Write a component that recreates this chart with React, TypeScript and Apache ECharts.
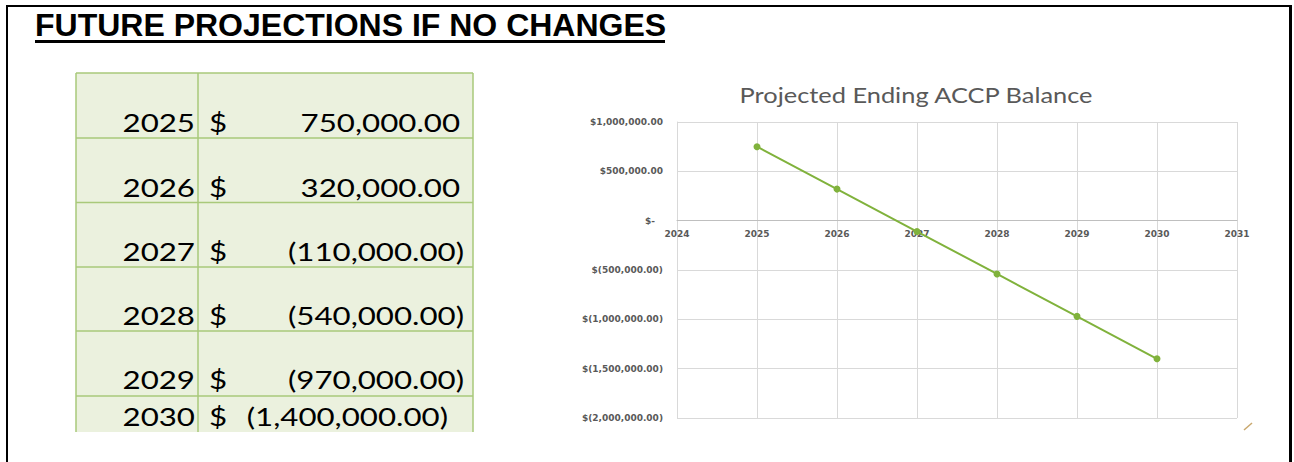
import React, { useEffect, useRef } from "react";
import * as echarts from "echarts";

const years: number[] = [2025, 2026, 2027, 2028, 2029, 2030];
const balances: number[] = [750000, 320000, -110000, -540000, -970000, -1400000];
const xMin = 2024;
const xMax = 2031;
const yMin = -2000000;
const yMax = 1000000;
const yStep = 500000;
const pageTitle = "FUTURE PROJECTIONS IF NO CHANGES";
const chartTitle = "Projected Ending ACCP Balance";

const W = 1294;
const H = 462;

function money(v: number): string {
  return Math.abs(v).toLocaleString("en-US", { minimumFractionDigits: 2, maximumFractionDigits: 2 });
}
function tableValue(v: number): string {
  return v < 0 ? "(" + money(v) + ")" : money(v);
}
function axisValue(v: number): string {
  if (v === 0) return "{z|$-}";
  return v < 0 ? "$(" + money(v) + ")" : "$" + money(v);
}

const rowEdges = [73, 138, 202.5, 267, 331, 396, 432];
const rowBaselines = [131, 196, 260, 324, 388, 425];
const tblLeft = 76;
const tblMid = 198;
const tblRight = 473;

export default function App() {
  const ref = useRef<HTMLDivElement>(null);
  useEffect(() => {
    if (!ref.current) return;
    const chart = echarts.init(ref.current, null, { renderer: "svg" });
    const tableFont = "Lato";
    const tfs = 25;
    const tsx = 1.25;
    const graphics: any[] = [];
    // outer frame
    graphics.push({ type: "rect", shape: { x: 6, y: 5, width: 2, height: H }, style: { fill: "#000" } });
    graphics.push({ type: "rect", shape: { x: 6, y: 5, width: 1285, height: 2 }, style: { fill: "#000" } });
    graphics.push({ type: "rect", shape: { x: 1289, y: 5, width: 3, height: H }, style: { fill: "#000" } });
    // page title
    graphics.push({
      type: "text", x: 35, y: 25,
      style: { text: pageTitle, font: "bold 32px 'Liberation Sans', Arial, sans-serif", fill: "#000", verticalAlign: "middle", align: "left" },
    });
    graphics.push({ type: "rect", shape: { x: 35, y: 40, width: 630, height: 3 }, style: { fill: "#000" } });
    // table background
    graphics.push({
      type: "rect", shape: { x: tblLeft, y: rowEdges[0], width: tblRight - tblLeft, height: rowEdges[6] - rowEdges[0] },
      style: { fill: "#EBF1DE" },
    });
    const green = "#A9C97A";
    for (let i = 0; i < 6; i++) {
      graphics.push({ type: "line", shape: { x1: tblLeft, y1: rowEdges[i], x2: tblRight, y2: rowEdges[i] }, style: { stroke: green, lineWidth: 1.5 } });
    }
    [tblLeft, tblMid, tblRight].forEach((x) => {
      graphics.push({ type: "line", shape: { x1: x, y1: rowEdges[0], x2: x, y2: rowEdges[6] }, style: { stroke: green, lineWidth: 1.5 } });
    });
    for (let i = 0; i < years.length; i++) {
      const cy = rowBaselines[i] - 9;
      graphics.push({
        type: "text", x: 195, y: cy, scaleX: tsx,
        style: { text: String(years[i]), font: `${tfs}px ${tableFont}`, fill: "#000", align: "right", verticalAlign: "middle" },
      });
      graphics.push({
        type: "text", x: 209, y: cy, scaleX: tsx,
        style: { text: "$", font: `${tfs}px ${tableFont}`, fill: "#000", align: "left", verticalAlign: "middle" },
      });
      const v = balances[i];
      const last = i === years.length - 1;
      const rx = last ? 448 : v < 0 ? 464 : 460;
      graphics.push({
        type: "text", x: rx, y: cy, scaleX: tsx,
        style: { text: tableValue(v), font: `${tfs}px ${tableFont}`, fill: "#000", align: "right", verticalAlign: "middle" },
      });
    }
    // chart title
    graphics.push({
      type: "text", x: 916, y: 95, scaleX: 1.155,
      style: { text: chartTitle, font: "22px Lato", fill: "#595959", align: "center", verticalAlign: "middle" },
    });
    // resize handle
    graphics.push({ type: "line", shape: { x1: 1244, y1: 430, x2: 1252, y2: 423 }, style: { stroke: "#C9A86E", lineWidth: 1.5 } });

    const labelStyle = { fontFamily: "DejaVu Sans", fontSize: 9, fontWeight: "bold" as const, color: "#595959" };
    chart.setOption({
      animation: false,
      grid: { left: 677, top: 122, width: 560, height: 296, containLabel: false },
      xAxis: {
        type: "value", min: xMin, max: xMax, interval: 1,
        position: "bottom",
        offset: -198,
        axisLine: { show: true, onZero: false, lineStyle: { color: "#BFBFBF", width: 1 } },
        axisTick: { show: false },
        axisLabel: { ...labelStyle, margin: 9, formatter: (v: number) => String(v) },
        splitLine: { show: true, lineStyle: { color: "#D9D9D9", width: 1 } },
      },
      yAxis: {
        type: "value", min: yMin, max: yMax, interval: yStep,
        axisLine: { show: true, lineStyle: { color: "#D9D9D9", width: 1 } },
        axisTick: { show: false },
        axisLabel: {
          ...labelStyle, margin: 14, formatter: (v: number) => axisValue(v),
          rich: { z: { ...labelStyle, padding: [0, 8, 0, 0] } },
        },
        splitLine: { show: true, lineStyle: { color: "#D9D9D9", width: 1 } },
      },
      series: [
        {
          type: "line",
          data: years.map((y, i) => [y, balances[i]]),
          symbol: "circle",
          symbolSize: 7,
          lineStyle: { color: "#80B23C", width: 2 },
          itemStyle: { color: "#80B23C" },
        },
      ],
      graphic: graphics,
    });
    return () => chart.dispose();
  }, []);
  return <div ref={ref} style={{ position: "fixed", left: 0, top: 0, width: W, height: H, background: "#fff" }} />;
}
